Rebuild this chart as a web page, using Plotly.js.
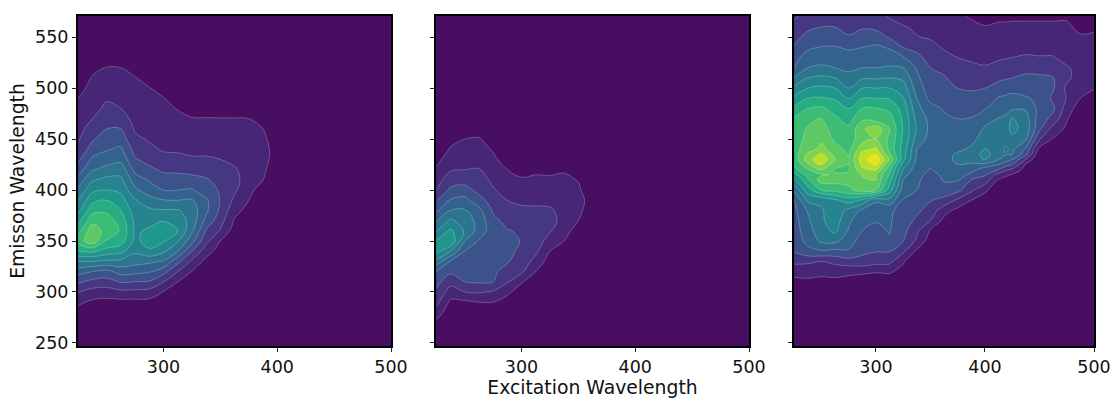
<!DOCTYPE html>
<html><head><meta charset="utf-8">
<script src="https://cdn.plot.ly/plotly-3.0.1.min.js"></script>
<style>html,body{margin:0;padding:0;background:#fff}#c{width:1116px;height:401px}</style>
</head><body><div id="c"></div>
<script>
const xTicks=[300,400,500], yTicks=[250,300,350,400,450,500,550];
const rows12=[246,250,260,270,280,290,300,310,320,330,340,350,360,370,380,390,400,410,420,430,440,450,460,470,480,490,500,510,520,530,540,550,572];
const rows3=[246,290,300,310,320,330,340,350,360,370,380,390,400,410,415,420,425,430,435,440,450,460,470,480,490,500,510,520,530,540,550,560,570,572];
// Each column: first number = emission wavelength of first value, then values in contour-level units, on the rows list.
const x1=[225,237.5,250,262.5,275,287.5,300,312.5,325,337.5,350,362.5,375,387.5,400,412.5,500];
const a225=[280,.6,1.2,2.05,3.2,4.4,6,8,9.5,8.7,7.7,6.7,6,5.2,4.4,3.5,2.8,2.3,1.9,1.7,1.5,1.2,1,.7,.3];
const a237=[280,.3,.8,1.6,2.7,4,6,8.2,10.6,10.6,9.7,8.7,7.7,6.8,5.9,4.9,4.2,3.4,2.9,2.4,2,1.7,1.5,1.3,1.1,.7,.2];
const a250=[290,.7,1.5,2.6,3.7,5.8,7.6,8.9,9.6,9.5,8.8,8,7,6.3,5.3,4.6,3.9,3.4,3,2.6,2.2,1.9,1.6,1.3,1.05,.4];
const a262=[290,.7,1.75,3.1,4.4,5.7,7.3,8.5,8.9,8.6,8,7.4,6.8,6.2,5.6,4.7,4.2,3.5,3,2.4,2,1.8,1.5,1.3,1,.4];
const a275=[290,.7,1.7,3,4.3,5.4,6.2,6.7,6.8,6.75,6.5,6.1,5.2,4.5,3.7,3.1,2.6,2.2,1.9,1.7,1.5,1.3,1.1,1.05,.6,.1];
const a287=[290,.7,1.6,2.9,4.1,5.2,6.8,7.5,7.2,6.6,6.2,5.4,4.5,3.9,3.2,2.7,2.2,1.9,1.7,1.5,1.35,1.2,1.05,.6,.1];
const a300=[290,.5,.95,2,3.4,4.9,6.2,7.1,7.6,6.95,6.1,5.05,4,3.4,2.85,2.3,1.9,1.75,1.6,1.4,1.25,1.05,.6,.2];
const a312=[300,.6,1,2,3.3,5,6.1,7,6.6,6.1,5,4,3.4,2.8,2.3,1.85,1.7,1.5,1.25,.95,.5,.1];
const a325=[310,.5,.95,1.8,3,4.3,5.2,5.6,5.5,5.1,4.1,3.3,2.7,2.1,1.8,1.6,1.35,1.05,.7,.3];
const a337=[320,.3,.7,1.4,2.3,2.9,3.7,4.2,4.15,3.4,3.1,2.6,2.1,1.8,1.6,1.35,1.05,.6,.2];
const a350=[340,.6,1,1.9,2.4,2.8,2.95,2.9,2.7,2.4,2,1.75,1.55,1.3,1.05,.5,.1];
const a362=[360,.5,.9,1.3,1.8,2.15,2.3,2.1,1.8,1.6,1.45,1.3,1.05,.4];
const a375=[370,.3,.7,1,1.3,1.5,1.6,1.6,1.5,1.4,1.2,1,.3];
const a387=[400,.5,1,1.15,1.25,1.25,1.15,1,.4];
const a400=[420,.5,.65,.7,.6,.3];
const a412=[250,0];
const a500=[250,0];
const b225=[260,.4,.8,1.6,2.3,2.8,3.4,4,5.7,7.4,7.1,5.9,4.9,3.8,2.9,2,1.6,1.1,.7,.3];
const b237=[280,.3,.8,1.6,2.3,3.2,3.9,6,8,7.2,6.2,5,4.1,3.2,2.5,1.9,1.5,1.1,.7,.2];
const b250=[280,.2,.8,2,3,3.3,3.7,4,5,5.9,5.5,5.1,4.3,3.4,2.6,2,1.6,1.3,1,.4];
const b262=[280,.4,1,2.1,3.1,3.3,3.5,3.7,3.9,4.6,4.7,4.3,3.4,2.7,2.4,2.05,1.7,1.4,1.1,.5,.1];
const b275=[280,.5,1,1.9,3,3.2,3.4,3.5,3.5,3.4,3.2,2.9,2.5,2.1,1.8,1.5,1.2,.9,.5,.1];
const b287=[280,.2,.6,1.2,2.1,2.6,3.1,3.3,3.3,3.05,2.8,2.4,2,1.6,1.3,1,.6,.2];
const b300=[300,.5,1.1,2.2,2.5,2.75,2.95,2.9,2.6,2.2,1.8,1.4,1.1,.7,.3];
const b312=[310,.4,1,1.7,2.2,2.5,2.6,2.5,2.2,1.75,1.4,1.2,.8,.3];
const b325=[330,.5,1,1.6,2.1,2.5,2.15,1.7,1.4,1.15,.8,.3];
const b337=[340,.6,1,1.25,1.5,1.6,1.6,1.4,1.2,.9,.3];
const b350=[350,.3,.7,1,1.25,1.35,1.15,.95,.5,.1];
const b362=[380,.4,.55,.35];
const b375=[250,0],b387=[250,0],b400=[250,0],b412=[250,0],b500=[250,0];
const x3=[225,237.5,250,262.5,275,287.5,300,312.5,325,337.5,350,362.5,375,387.5,400,412.5,418.75,425,437.5,450,462.5,475,487.5,500];
const c225=[300,.5,.8,1.25,2.3,3.1,3.4,3.5,3.6,3.75,4,5.2,6.8,7.6,8.7,9.1,9.4,9.5,9.6,9.5,9.4,9.1,8.2,7.2,6.3,5,4,3.7,3.1,2.7,2.3,1.9];
const c237=[300,.5,.85,1.3,2.2,3.7,4.3,4.6,4.8,5.1,6.2,7.6,8.8,9.4,9.9,10.8,11.6,11.2,10.6,10.3,10.1,9.7,9,8,7,6,5,4.4,3.85,3.3,2.8,2.3];
const c250=[300,.45,.8,1.2,2,3.9,5.2,5.6,5.85,5.9,6.2,9,10.5,9.9,11.1,12.1,12.7,12.2,11.3,10.8,10.5,10.05,9.2,8.1,7.2,6.2,5.2,4.5,4.05,3.5,3,2.6];
const c262=[300,.4,.8,1.3,2.3,3.7,5.3,6.2,6.5,6.6,6.8,9.3,10.4,10.1,9.9,10.4,11,10.7,10.4,9.8,9.4,9.2,8.6,7.9,7,6,5,4.3,4.05,3.5,3,2.5];
const c275=[300,.35,.7,1.2,2.6,3.9,4.4,4.9,5.2,5.7,7.5,9.8,10.3,10.2,9.9,9.95,10.05,9.9,9.7,9.5,9.2,8.6,8,7,6,5.3,4.8,4.3,3.9,3.1,2.7,2.2];
const c287=[300,.3,.6,1.15,2.7,3.2,3.6,4,4.3,4.8,6.8,10.4,10.9,11.05,11.8,12.3,12.6,12.4,11.7,10.6,10.8,9.8,9.05,8,7,5.9,5,4.5,4,3.4,2.9,2.3];
const c300=[300,.3,.6,1.05,2.4,3.05,3.4,3.8,4.05,4.3,5.2,10,11,11.1,12.1,13.1,13.7,13.1,12.2,10.95,11.7,9.4,9.05,8,7,5.9,5,4.6,4.2,3.4,2.8,2.2];
const c312=[300,.25,.55,1.1,2.3,3.05,3.9,4.05,4.1,4.2,5.7,7.5,8.4,8.9,9.3,10,10.9,10.2,9.7,9.8,10,9.4,8.8,7.9,7,6,5.1,4.5,3.9,2.9,2.3,1.95];
const c325=[300,.15,.45,.75,1.1,2.2,3,3.3,3.5,3.6,3.9,4.5,5,5.4,5.9,6.5,7.3,7.5,7.6,7.8,7.9,7.8,7.6,7.1,6.5,5.8,5,4.1,3,2.6,2.1,1.5];
const c337=[320,.1,.3,.8,1.8,2.2,2.8,3.2,3.6,4,4.2,4.3,4.45,4.6,4.8,4.9,5,5.6,5.9,5.7,5.3,5,4.5,4.2,3.9,3.2,2.8,2.05,1.8,1.3];
const c350=[340,.3,.5,.9,2,2.6,3.05,3.3,3.5,3.7,3.95,4.1,4.3,4.4,4.5,4.65,4.75,4.7,4.4,3.7,3.5,3.3,3,2.75,2.3,1.9,1.6,1.3];
const c362=[360,.3,.7,1.4,2.7,3.6,4.1,4.2,4.3,4.4,4.5,4.55,4.6,4.6,4.5,4.2,3.9,3.65,3.4,3.1,2.75,2.3,1.9,1.65,1.4,1.15];
const c375=[370,.2,.7,1.8,3.3,4.1,4.35,4.6,5,5.3,5.2,4.75,4.55,4.35,4,3.65,3.3,3,2.6,2.3,2,1.8,1.6,1.3,1.1];
const c387=[380,.5,1,2.2,3,3.8,4.4,4.9,5.25,5.3,5.2,4.7,4.35,4.05,3.7,3.3,2.9,2.5,2.2,1.85,1.65,1.45,1.15,.95];
const c400=[390,.5,1.2,2.6,3.1,3.4,4.7,6.1,6.4,6.05,5.5,5.15,4.6,3.95,3.4,3,2.5,2.05,1.85,1.6,1.35,1.05,.7];
const c412=[400,.3,.9,1.6,3,4,5,5.4,5.7,5.6,5.4,5.05,4.4,4.1,3.4,2.8,2.25,1.9,1.65,1.45,1.2,.8];
const c418=[400,.1,.7,1.2,2.2,3.5,4.4,5.1,4.85,5.5,5.6,5.3,4.5,4.2,3.55,2.9,2.35,1.95,1.7,1.5,1.2,.8];
const c425=[410,.5,.9,1.8,3.1,4,5,5.2,5.7,6.3,6.1,4.85,4.3,3.7,3,2.5,2,1.75,1.5,1.2,.85];
const c437=[420,.6,.85,1.9,3.4,3.8,5.1,5.6,5.4,4.9,4.1,3.6,3.2,2.7,2.1,1.75,1.5,1.2,.85];
const c450=[440,.7,2.1,3.2,3.5,3.7,3.8,3.6,3.2,2.6,2.05,1.75,1.5,1.2,.85];
const c462=[440,.4,.9,1.6,2.7,3.2,2.8,3.1,3.05,2.6,2.05,1.75,1.5,1.2,.85];
const c475=[450,.3,.8,1.1,1.5,1.95,1.8,2.2,2.1,1.7,1.5,1.35,1.15,.9];
const c487=[470,.2,.5,1,1.3,1.6,1.7,1.5,1.3,1.1,.8,.5];
const c500=[480,.3,.6,1.05,1.3,1.4,1.3,1.2,1.1,.9,.6];
const cols1=[a225,a237,a250,a262,a275,a287,a300,a312,a325,a337,a350,a362,a375,a387,a400,a412,a500];
const cols2=[b225,b237,b250,b262,b275,b287,b300,b312,b325,b337,b350,b362,b375,b387,b400,b412,b500];
const cols3=[c225,c237,c250,c262,c275,c287,c300,c312,c325,c337,c350,c362,c375,c387,c400,c412,c418,c425,c437,c450,c462,c475,c487,c500];
const bandColors=['#470e61','#482677','#453781','#3b528b','#33638d','#2b758e','#25858e','#1f988b','#27ad81','#3dbc74','#5ec962','#84d44b','#bddf26','#e7e419'];
function grid(cols,rows){
  const z=rows.map(()=>cols.map(()=>0));
  cols.forEach((col,j)=>{
    const i0=rows.indexOf(col[0]);
    for(let k=1;k<col.length;k++){ z[i0+k-1][j]=col[k]; }
  });
  z[rows.length-1]=z[rows.length-2].slice();
  return z;
}
const scale=bandColors.map((c,i)=>[i/(bandColors.length-1),c]);
const base={type:'contour',autocontour:false,contours:{start:1,end:13,size:1,coloring:'fill'},
  zauto:false,zmin:0,zmax:14,colorscale:scale,showscale:false,hoverinfo:'skip',
  line:{width:0.6,color:'rgba(255,255,255,0.4)',smoothing:1.1}};
const data=[
  Object.assign({},base,{x:x1,y:rows12,z:grid(cols1,rows12),xaxis:'x',yaxis:'y'}),
  Object.assign({},base,{x:x1,y:rows12,z:grid(cols2,rows12),xaxis:'x2',yaxis:'y2'}),
  Object.assign({},base,{x:x3,y:rows3,z:grid(cols3,rows3),xaxis:'x3',yaxis:'y3'})
];
const W=1116,H=401,tf={family:'DejaVu Sans',size:17.5,color:'#111'},tt={family:'DejaVu Sans',size:18.8,color:'#111'};
function xa(l,r,title){return {domain:[l/W,r/W],range:[224.8,500],tickvals:xTicks,ticks:'outside',ticklen:4,tickwidth:1,tickcolor:'#222',
  showline:true,mirror:true,linecolor:'#000',linewidth:2,showgrid:false,zeroline:false,tickfont:tf,
  title:title?{text:title,font:tt,standoff:3}:{text:''}};}
function ya(anchor,labels,title){return {domain:[1-346/H,1-16/H],range:[247,570.8],tickvals:yTicks,ticks:'outside',ticklen:4,tickwidth:1,tickcolor:'#222',
  anchor:anchor,showticklabels:labels,showline:true,mirror:true,linecolor:'#000',linewidth:2,showgrid:false,zeroline:false,tickfont:tf,
  title:title?{text:title,font:tt,standoff:6}:{text:''}};}
const layout={width:W,height:H,margin:{l:0,r:0,t:0,b:0,pad:0},paper_bgcolor:'#fff',plot_bgcolor:'#470e61',showlegend:false,
  xaxis:xa(78,391),xaxis2:xa(436,749,'Excitation Wavelength'),xaxis3:xa(794,1094),
  yaxis:ya('x',true,'Emisson Wavelength'),yaxis2:ya('x2',false),yaxis3:ya('x3',false)};
Plotly.newPlot('c',data,layout,{displayModeBar:false,staticPlot:true});
</script></body></html>
